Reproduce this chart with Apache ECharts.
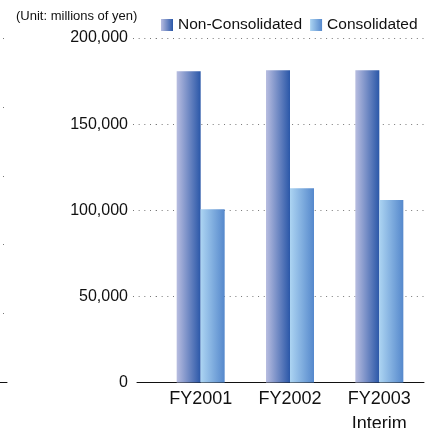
<!DOCTYPE html>
<html>
<head>
<meta charset="utf-8">
<script src="https://cdn.jsdelivr.net/npm/echarts@6/dist/echarts.min.js"></script>
<style>
  html, body { margin: 0; padding: 0; background: #fff; }
  #chart { width: 426px; height: 428px; }
</style>
</head>
<body>
<div id="chart"></div>
<script>
// Fiscal periods on the category axis
var categories = ['FY2001', 'FY2002', 'FY2003\nInterim'];
// Values in millions of yen
var nonConsolidated = [180700, 181300, 181300];
var consolidated = [100600, 112800, 105900];
// Value axis range
var yMin = 0;
var yMax = 200000;
var yStep = 50000;

var FONT = '"Liberation Sans", Arial, Helvetica, sans-serif';
var TOP = 38;
var HEIGHT = 344.5;
var dotted = { color: '#777', width: 1, type: [1, 4.67] };

function grad(c0, c1) {
  return new echarts.graphic.LinearGradient(0, 0, 1, 0, [
    { offset: 0, color: c0 },
    { offset: 1, color: c1 }
  ]);
}

function gridBox(left, width, right) {
  var g = { top: TOP, height: HEIGHT, left: left, outerBoundsMode: 'none', containLabel: false };
  if (width != null) g.width = width;
  if (right != null) g.right = right;
  return g;
}

var chart = echarts.init(document.getElementById('chart'), null, { renderer: 'canvas' });

chart.setOption({
  animation: false,
  backgroundColor: '#fff',
  textStyle: { fontFamily: FONT },
  title: {
    text: '(Unit: millions of yen)',
    left: 16,
    top: 10,
    padding: 0,
    textStyle: { fontSize: 13, fontWeight: 'normal', color: '#111', fontFamily: FONT }
  },
  legend: {
    left: 161,
    top: 17,
    padding: 0,
    itemWidth: 12,
    itemHeight: 12,
    itemGap: 8,
    icon: 'rect',
    textStyle: { fontSize: 15.5, color: '#111', fontFamily: FONT },
    data: ['Non-Consolidated', 'Consolidated']
  },
  grid: [
    // plot area with the bars
    gridBox(156, null, 2),
    // value labels and the left end of the dotted guides
    gridBox(133, 23),
    // left end of the baseline
    gridBox(137, 19),
    // edge of the neighbouring panel
    gridBox(0, 7)
  ],
  xAxis: [
    {
      gridIndex: 0,
      type: 'category',
      data: categories,
      axisLine: { lineStyle: { color: '#111', width: 1 } },
      axisTick: { show: false },
      axisLabel: { fontSize: 18, color: '#111', margin: 4, lineHeight: 25, fontFamily: FONT }
    },
    { gridIndex: 1, type: 'value', show: false },
    {
      gridIndex: 2, type: 'value', min: 0, max: 1,
      axisLine: { show: true, lineStyle: { color: '#111', width: 1 } },
      axisTick: { show: false }, axisLabel: { show: false }, splitLine: { show: false }
    },
    {
      gridIndex: 3, type: 'value', min: 0, max: 1,
      axisLine: { show: true, lineStyle: { color: '#111', width: 1 } },
      axisTick: { show: false }, axisLabel: { show: false }, splitLine: { show: false }
    }
  ],
  yAxis: [
    {
      gridIndex: 0, type: 'value', min: yMin, max: yMax, interval: yStep,
      axisLine: { show: false }, axisTick: { show: false }, axisLabel: { show: false },
      splitLine: { show: true, showMinLine: false, lineStyle: dotted }
    },
    {
      gridIndex: 1, type: 'value', min: yMin, max: yMax, interval: yStep,
      axisLine: { show: false }, axisTick: { show: false },
      axisLabel: {
        fontSize: 16, color: '#111', margin: 5, fontFamily: FONT,
        formatter: function (v) { return v.toLocaleString('en-US'); }
      },
      splitLine: { show: true, showMinLine: false, lineStyle: dotted }
    },
    {
      gridIndex: 2, type: 'value', min: yMin, max: yMax,
      show: false
    },
    {
      gridIndex: 3, type: 'value', min: 0, max: 5, interval: 1,
      axisLine: { show: false }, axisTick: { show: false }, axisLabel: { show: false },
      splitLine: {
        show: true, showMinLine: false,
        lineStyle: { color: '#777', width: 1, type: [1, 5], dashOffset: 3 }
      }
    }
  ],
  series: [
    {
      name: 'Non-Consolidated',
      type: 'bar',
      xAxisIndex: 0,
      yAxisIndex: 0,
      data: nonConsolidated,
      barWidth: 24,
      barGap: '0%',
      itemStyle: { color: grad('#b8bde0', '#2a57a8') }
    },
    {
      name: 'Consolidated',
      type: 'bar',
      xAxisIndex: 0,
      yAxisIndex: 0,
      data: consolidated,
      barWidth: 24,
      barGap: '0%',
      itemStyle: { color: grad('#acd4f2', '#5588cc') }
    }
  ]
});
</script>
</body>
</html>
